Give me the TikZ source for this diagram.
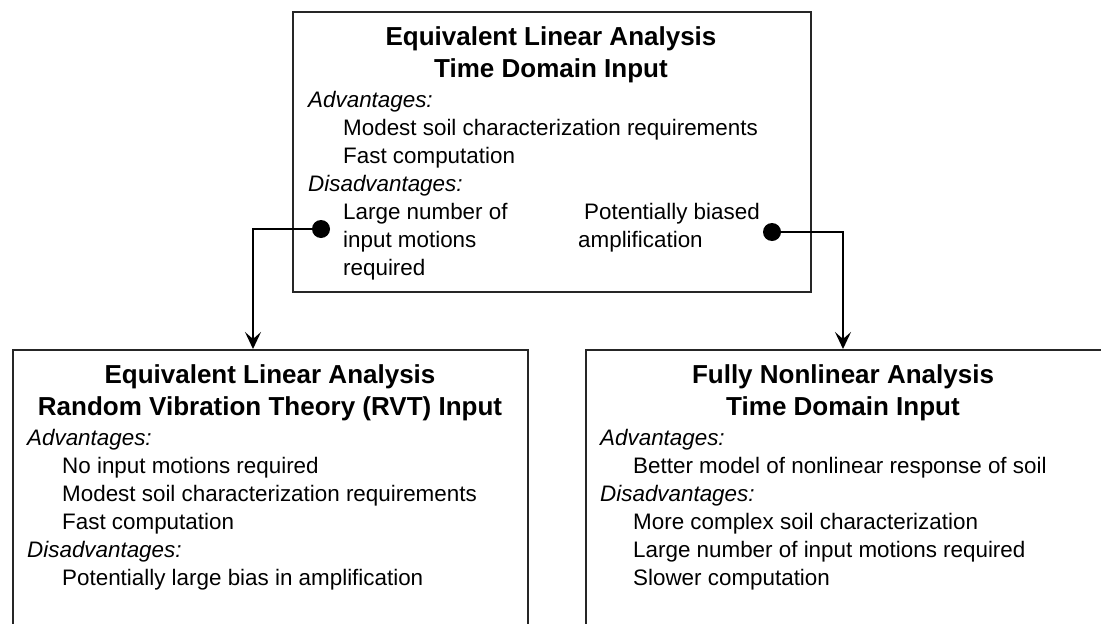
\documentclass[tikz,border=0pt]{standalone}
\usepackage{fontspec}
\setmainfont{Liberation Sans}
\usetikzlibrary{arrows.meta}
\begin{document}
\begin{tikzpicture}[x=1pt,y=-1pt,
 box/.style={draw=black!85, line width=1.8pt, rectangle, anchor=north west, inner sep=0},
 ttl/.style={anchor=base, font=\fontsize{26}{32}\selectfont\bfseries, inner sep=0},
 hd/.style={anchor=base west, font=\fontsize{22.4}{28}\selectfont\itshape, inner sep=0},
 txt/.style={anchor=base west, font=\fontsize{22.4}{28}\selectfont, inner sep=0},
 dot/.style={circle, fill=black, minimum size=18pt, inner sep=0},
 conn/.style={line width=1.8pt, -{Stealth[length=17pt,width=16pt,inset=7pt]}}]
\useasboundingbox (0,0) rectangle (1101,624);
\clip (0,0) rectangle (1101,624);
\fill[white] (0,0) rectangle (1101,624);
% boxes
\node[box, minimum width=518pt, minimum height=280pt] (top) at (292,11) {};
\node[box, minimum width=515pt, minimum height=360pt] (lb) at (12,349) {};
\node[box, minimum width=540pt, minimum height=360pt] (rb) at (585,349) {};
% top box text
\node[ttl] (t1) at (551,45) {Equivalent Linear Analysis};
\node[ttl] (t2) at (551,77) {Time Domain Input};
\node[hd] (t3) at (308,107) {Advantages:};
\node[txt] (t4) at (343,135) {Modest soil characterization requirements};
\node[txt] (t5) at (343,163) {Fast computation};
\node[hd] (t6) at (308,191) {Disadvantages:};
\node[txt] (t7) at (343,219) {Large number of};
\node[txt] (t8) at (343,247) {input motions};
\node[txt] (t9) at (343,275) {required};
\node[txt] (t10) at (584,219) {Potentially biased};
\node[txt] (t11) at (578,247) {amplification};
% left box text
\node[ttl] (l1) at (270,383) {Equivalent Linear Analysis};
\node[ttl] (l2) at (270,415) {Random Vibration Theory (RVT) Input};
\node[hd] (l3) at (27,445) {Advantages:};
\node[txt] (l4) at (62,473) {No input motions required};
\node[txt] (l5) at (62,501) {Modest soil characterization requirements};
\node[txt] (l6) at (62,529) {Fast computation};
\node[hd] (l7) at (27,557) {Disadvantages:};
\node[txt] (l8) at (62,585) {Potentially large bias in amplification};
% right box text
\node[ttl] (r1) at (843,383) {Fully Nonlinear Analysis};
\node[ttl] (r2) at (843,415) {Time Domain Input};
\node[hd] (r3) at (600,445) {Advantages:};
\node[txt] (r4) at (633,473) {Better model of nonlinear response of soil};
\node[hd] (r5) at (600,501) {Disadvantages:};
\node[txt] (r6) at (633,529) {More complex soil characterization};
\node[txt] (r7) at (633,557) {Large number of input motions required};
\node[txt] (r8) at (633,585) {Slower computation};
% connectors
\node[dot] (d1) at (321,229) {};
\node[dot] (d2) at (772,232) {};
\coordinate (a1) at (253,349);
\coordinate (a2) at (843,349);
\draw[conn] (d1.center) -| (a1);
\draw[conn] (d2.center) -| (a2);
\end{tikzpicture}
\end{document}
